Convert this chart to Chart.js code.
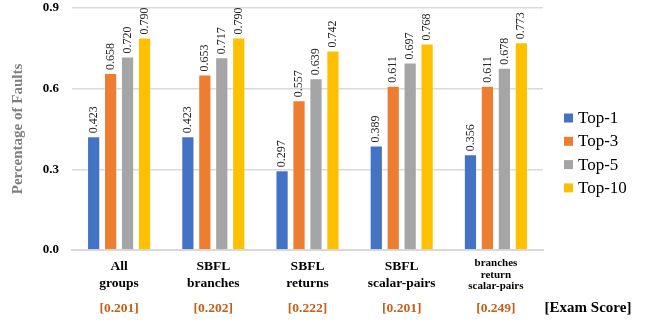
<!DOCTYPE html>
<html>
<head>
<meta charset="utf-8">
<script src="https://cdn.jsdelivr.net/npm/chart.js@4/dist/chart.umd.min.js"></script>
<style>
  html, body { margin: 0; padding: 0; background: #ffffff; }
  #wrap { position: relative; width: 652px; height: 322px; }
</style>
</head>
<body>
<div id="wrap"><canvas id="chart" width="652" height="322"></canvas></div>
<script>
// Fault-localization groups (x axis), each label split into lines
const groups = [
  ["All", "groups"],
  ["SBFL", "branches"],
  ["SBFL", "returns"],
  ["SBFL", "scalar-pairs"],
  ["branches", "return", "scalar-pairs"]
];
// Exam score shown under each group
const examScores = ["[0.201]", "[0.202]", "[0.222]", "[0.201]", "[0.249]"];
const examTitle = "[Exam Score]";

// Share of faults found within the top-N ranks
const seriesNames = ["Top-1", "Top-3", "Top-5", "Top-10"];
const top1  = [0.423, 0.423, 0.297, 0.389, 0.356];
const top3  = [0.658, 0.653, 0.557, 0.611, 0.611];
const top5  = [0.720, 0.717, 0.639, 0.697, 0.678];
const top10 = [0.790, 0.790, 0.742, 0.768, 0.773];
const seriesColors = ["#4472C4", "#ED7D31", "#A5A5A5", "#FFC000"];

const yTicks = [0.0, 0.3, 0.6, 0.9];

const SERIF = '"Liberation Serif", "Times New Roman", serif';

const labelPlugin = {
  id: "annotations",
  afterDatasetsDraw(chart) {
    const ctx = chart.ctx;
    const x = chart.scales.x;
    const area = chart.chartArea;
    ctx.save();

    // value labels, rotated, above each bar
    ctx.font = "12px " + SERIF;
    ctx.fillStyle = "#262626";
    ctx.textAlign = "left";
    ctx.textBaseline = "middle";
    chart.data.datasets.forEach((ds, di) => {
      const meta = chart.getDatasetMeta(di);
      meta.data.forEach((bar, i) => {
        ctx.save();
        ctx.translate(bar.x, bar.y - 3);
        ctx.rotate(-Math.PI / 2);
        ctx.fillText(ds.data[i].toFixed(3), 0, 0);
        ctx.restore();
      });
    });

    // group labels under the axis
    ctx.fillStyle = "#000";
    ctx.textAlign = "center";
    groups.forEach((lines, i) => {
      const cx = x.getPixelForValue(i);
      if (lines.length > 2) {
        ctx.font = "bold 11px " + SERIF;
        lines.forEach((t, k) => ctx.fillText(t, cx, area.bottom + 13 + k * 11.7));
      } else {
        ctx.font = "bold 13.5px " + SERIF;
        lines.forEach((t, k) => ctx.fillText(t, cx, area.bottom + 16.5 + k * 17));
      }
    });

    // exam scores
    ctx.font = "bold 13.5px " + SERIF;
    ctx.fillStyle = "#C55F1C";
    examScores.forEach((s, i) => {
      ctx.fillText(s, x.getPixelForValue(i), area.bottom + 58.5);
    });
    ctx.font = "bold 15px " + SERIF;
    ctx.fillStyle = "#000";
    ctx.fillText(examTitle, 588, area.bottom + 58.5);

    // legend
    ctx.textAlign = "left";
    ctx.font = "17px " + SERIF;
    chart.data.datasets.forEach((ds, di) => {
      const cy = 118 + di * 23.3;
      ctx.fillStyle = ds.backgroundColor;
      ctx.fillRect(564, cy - 4.5, 9, 9);
      ctx.fillStyle = "#000";
      ctx.fillText(ds.label, 578, cy + 0.5);
    });

    ctx.restore();
  }
};

const allSeries = [top1, top3, top5, top10];

new Chart(document.getElementById("chart"), {
  type: "bar",
  data: {
    labels: groups.map(g => g.join(" ")),
    datasets: allSeries.map((vals, i) => ({
      label: seriesNames[i],
      data: vals,
      backgroundColor: seriesColors[i],
      borderColor: "rgba(255,255,255,0.35)",
      borderWidth: 1,
      categoryPercentage: 0.72,
      barPercentage: 0.78
    }))
  },
  options: {
    responsive: false,
    animation: false,
    devicePixelRatio: 1,
    layout: { padding: { top: 8, right: 109, bottom: 72, left: 0 } },
    plugins: {
      legend: { display: false },
      tooltip: { enabled: false }
    },
    scales: {
      x: {
        ticks: { display: false },
        grid: { display: false, drawTicks: false },
        border: { display: true, color: "#D9D9D9", width: 2 },
        afterFit(scale) { scale.height = 0; scale.paddingLeft = 0; scale.paddingRight = 0; }
      },
      y: {
        min: 0,
        max: 0.9,
        afterFit(scale) { scale.width = 72; scale.paddingTop = 0; scale.paddingBottom = 0; },
        afterBuildTicks(scale) { scale.ticks = yTicks.map(v => ({ value: v })); },
        ticks: {
          padding: 13,
          color: "#000",
          font: { family: SERIF, size: 13, weight: "bold" },
          callback: v => Number(v).toFixed(1)
        },
        grid: { color: "#D9D9D9", lineWidth: 1.5, drawTicks: false },
        border: { display: false },
        title: {
          display: true,
          text: "Percentage of Faults",
          color: "#7F7F7F",
          font: { family: SERIF, size: 15, weight: "bold" },
          padding: { top: 9, bottom: 0 }
        }
      }
    }
  },
  plugins: [labelPlugin]
});
</script>
</body>
</html>
